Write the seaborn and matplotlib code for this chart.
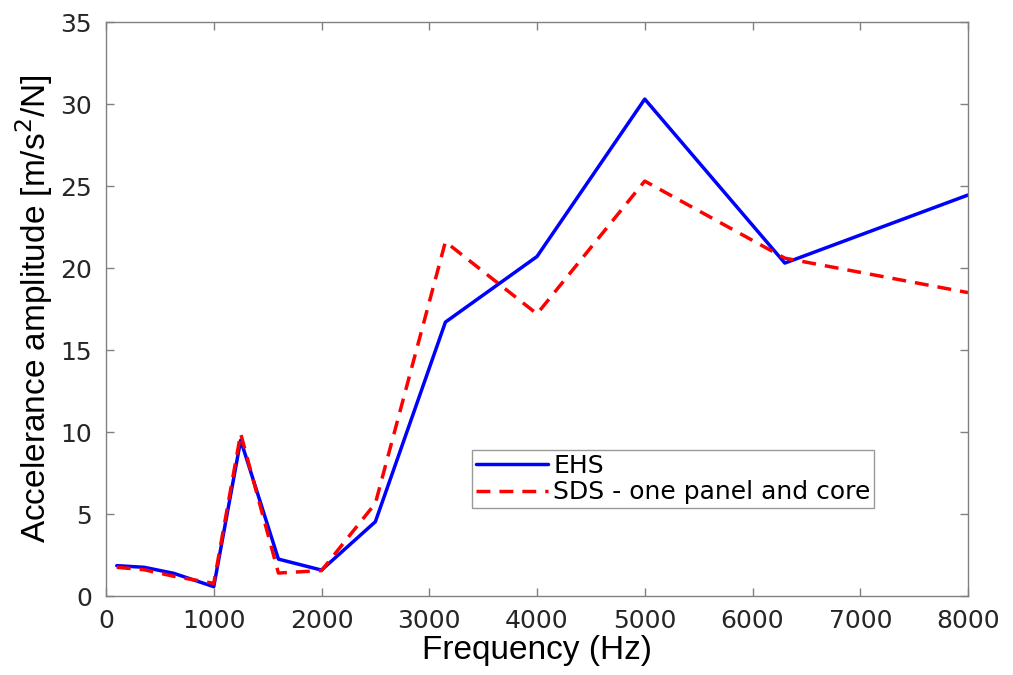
import matplotlib
matplotlib.use("Agg")
import matplotlib.pyplot as plt
import seaborn as sns
import pandas as pd

freq = [100, 355, 630, 1000, 1250, 1600, 2000, 2500, 3150, 4000, 5000, 6300, 8000]
ehs = [1.85, 1.75, 1.38, 0.57, 9.5, 2.25, 1.58, 4.53, 16.7, 20.7, 30.3, 20.3, 24.45]
sds = [1.75, 1.6, 1.2, 0.77, 9.9, 1.4, 1.55, 5.65, 21.6, 17.2, 25.3, 20.6, 18.5]
series_names = ["EHS", "SDS - one panel and core"]

sns.set_theme(style="white")
plt.rcParams['font.family'] = ['Liberation Sans', 'DejaVu Sans']

df = pd.concat([
    pd.DataFrame({"Frequency": freq, "Amp": ehs, "Series": series_names[0]}),
    pd.DataFrame({"Frequency": freq, "Amp": sds, "Series": series_names[1]}),
])

fig = plt.figure(figsize=(10.13, 6.75), dpi=100)
ax = fig.add_axes([106/1013, 1 - 596/675, (968-106)/1013, (596-22)/675])

sns.lineplot(data=df, x="Frequency", y="Amp", hue="Series", style="Series",
             palette={series_names[0]: "#0000ff", series_names[1]: "#ff0000"},
             dashes={series_names[0]: "", series_names[1]: (4, 2.6)},
             linewidth=2.5, ax=ax, sort=False, estimator=None)

ax.set_xlim(0, 8000)
ax.set_ylim(0, 35)
ax.set_xticks(range(0, 8001, 1000))
ax.set_yticks(range(0, 36, 5))
ax.tick_params(direction="in", length=6, width=1, colors="#808080",
               labelcolor="#262626", labelsize=18, top=True, right=True,
               bottom=True, left=True)
ax.tick_params(axis="x", pad=9)
ax.tick_params(axis="y", pad=10)
for lbl in ax.get_xticklabels() + ax.get_yticklabels():
    lbl.set_fontfamily(['DejaVu Sans'])
for s in ax.spines.values():
    s.set_color("#808080")
    s.set_linewidth(1.0)
ax.set_xlabel("Frequency (Hz)", fontsize=24, color="#000000", labelpad=2)
ax.set_ylabel("Accelerance amplitude [m/s$^2$/N]", fontsize=24, color="#000000", labelpad=4)

leg = ax.legend(loc="lower left", bbox_to_anchor=((472-106)/862, (596-508)/574),
                borderaxespad=0, prop={'family': ['DejaVu Sans'], 'size': 18},
                frameon=True, fancybox=False,
                handlelength=2.9, handletextpad=0.2, borderpad=0.15, labelspacing=0.1)
for t in leg.get_texts():
    t.set_color("#000000")
leg.get_frame().set_edgecolor("#808080")
leg.get_frame().set_linewidth(1.0)

fig.savefig("out.png", dpi=100)
